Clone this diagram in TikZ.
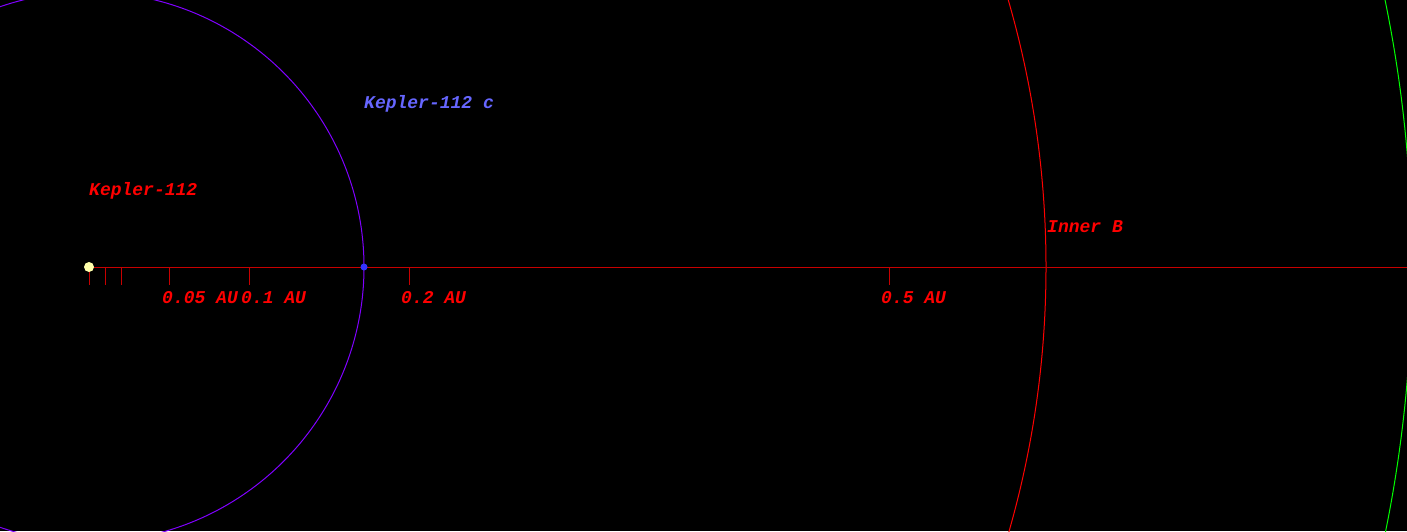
\documentclass[tikz,border=0pt]{standalone}
\usepackage{fontspec}
\newfontfamily\monofont{Liberation Mono}
\definecolor{axisred}{RGB}{200,0,0}
\definecolor{orbitc}{RGB}{128,0,255}
\definecolor{labelc}{RGB}{102,102,255}
\definecolor{planetc}{RGB}{51,51,255}
\definecolor{starc}{RGB}{255,255,170}
\definecolor{hzgreen}{RGB}{0,255,0}
\tikzset{
  lbl/.style={anchor=base west, inner sep=0pt, font=\monofont\bfseries\itshape\fontsize{18}{18}\selectfont},
  axis/.style={draw=axisred, line width=1pt},
  tick/.style={draw=axisred, line width=1pt},
}
\begin{document}
\begin{tikzpicture}[x=1pt,y=-1pt]
\fill[black] (0,0) rectangle (1407,531);
\useasboundingbox (0,0) rectangle (1407,531);
\begin{scope}
\clip (0,0) rectangle (1407,531);
\coordinate (star) at (89,267);
\coordinate (axisend) at (1407,267);
% orbits
\draw[orbitc, line width=1pt] (star) circle[radius=275];
\draw[red, line width=1pt] (star) circle[radius=957];
\draw[hzgreen, line width=1pt] (star) circle[radius=1323];
% axis
\draw[axis] (star) -- (axisend);
% ticks
\foreach \x/\n in {89/t0,105/t1,121/t2,169/t5,249/t10,409/t20,889/t50}{
  \coordinate (\n) at (\x,267);
  \coordinate (\n b) at (\x,285);
  \draw[tick] (\n) -- (\n b);
}
% labels
\node[lbl, red] (l05) at (162,303) {0.05 AU};
\node[lbl, red] (l10) at (241,303) {0.1 AU};
\node[lbl, red] (l20) at (401,303) {0.2 AU};
\node[lbl, red] (l50) at (881,303) {0.5 AU};
\node[lbl, red] (innerb) at (1047,232) {Inner B};
\node[lbl, red] (starlbl) at (89,195) {Kepler-112};
\node[lbl, labelc] (plbl) at (364,108) {Kepler-112 c};
% star and planet
\node[circle, fill=starc, minimum size=10pt, inner sep=0pt] (sun) at (star) {};
\node[circle, fill=planetc, minimum size=7pt, inner sep=0pt] (planet) at (364,267) {};
\end{scope}
\end{tikzpicture}
\end{document}
